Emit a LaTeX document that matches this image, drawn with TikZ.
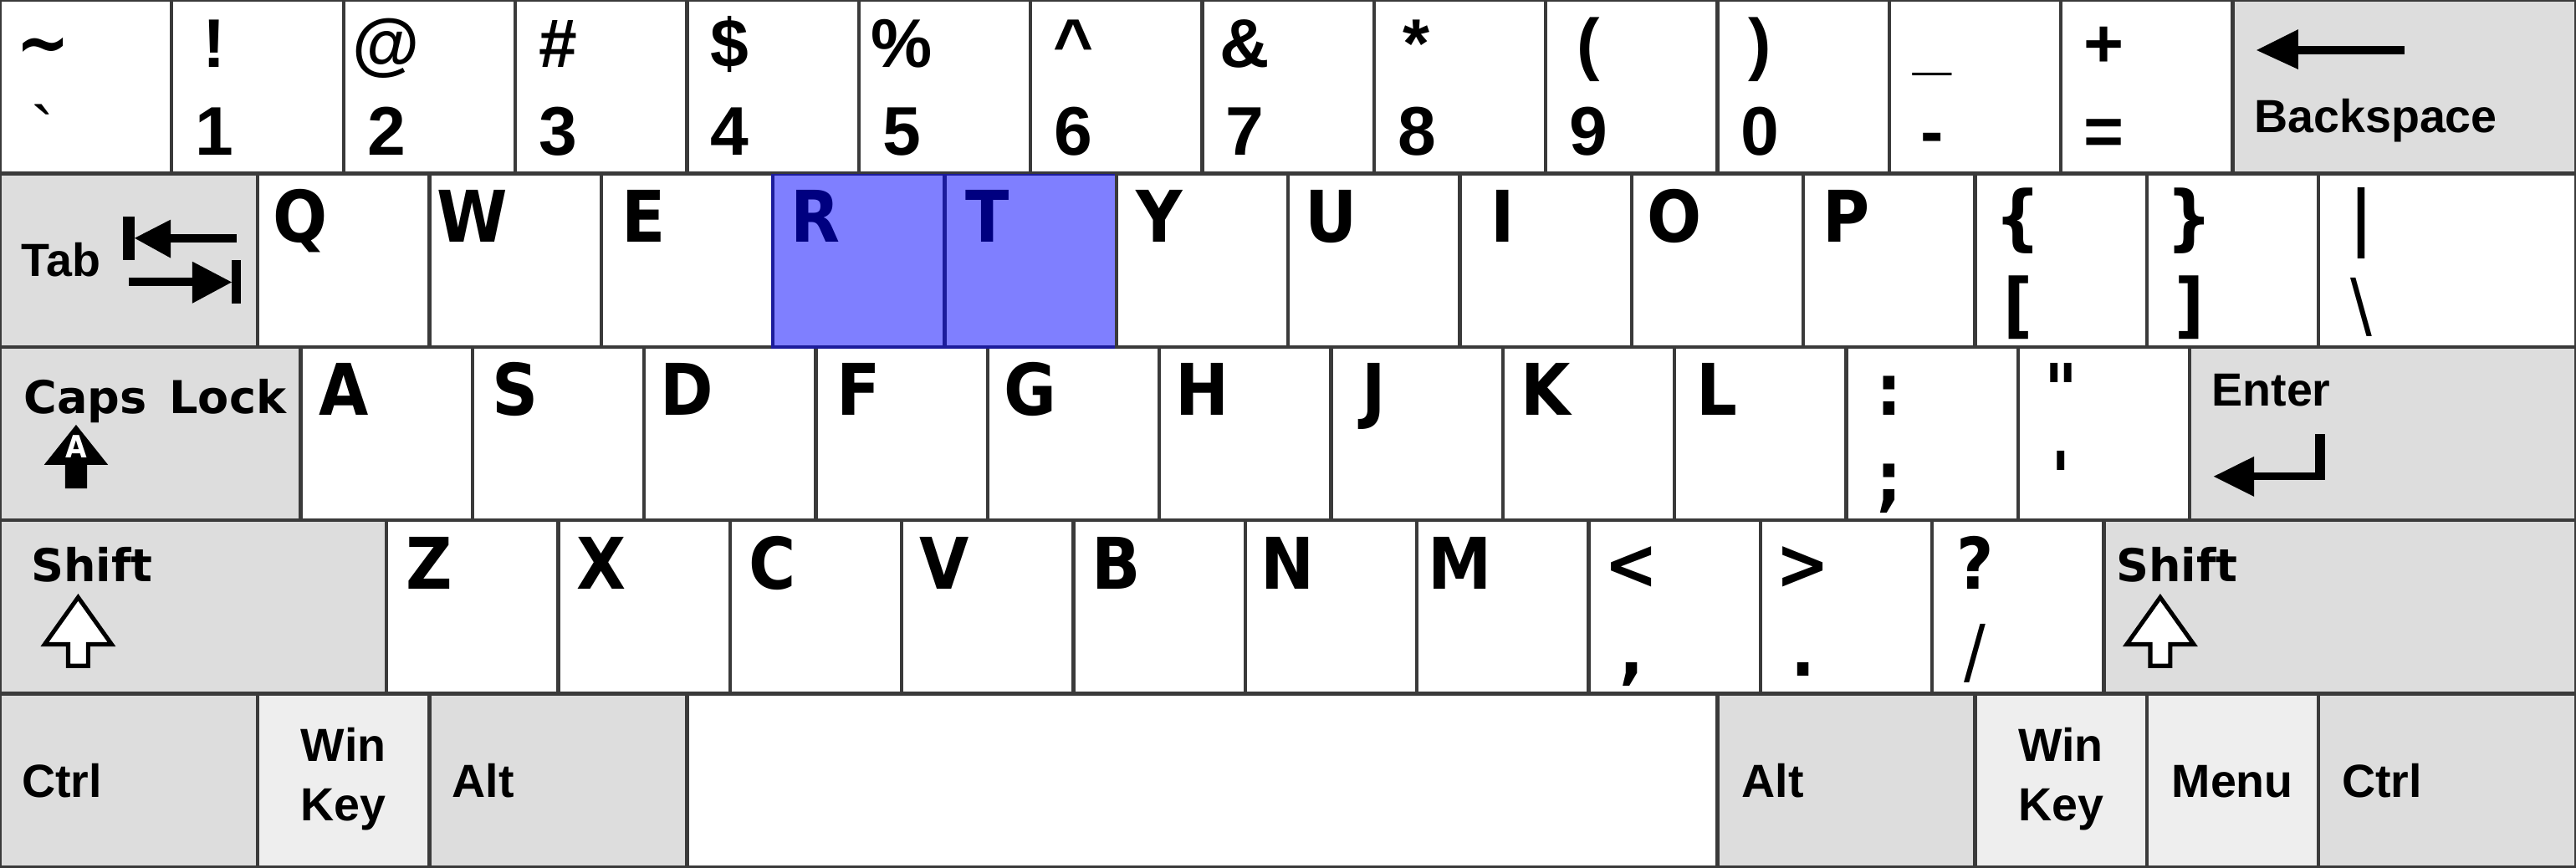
\documentclass[tikz,border=0pt]{standalone}
\usepackage{fontspec}
\newfontfamily\arialfont[Ligatures=TeXOff]{Liberation Sans}
\newfontfamily\dvfont[FakeStretch=0.9,Ligatures=TeXOff]{DejaVu Sans}
\newfontfamily\dvplain[Ligatures=TeXOff]{DejaVu Sans}
\definecolor{keyline}{HTML}{3A3A3A}
\definecolor{modgray}{HTML}{DDDDDD}
\definecolor{wingray}{HTML}{EEEEEE}
\definecolor{hlblue}{HTML}{0000FF}
\tikzset{
  keybox/.style={draw=keyline,line width=0.6pt,rectangle,inner sep=0pt,outer sep=0pt,anchor=north west,minimum height=1.01006cm},
  toplbl/.style={font=\arialfont\bfseries\fontsize{11.4}{13}\selectfont,anchor=base,inner sep=0pt},
  letter/.style={font=\dvfont\bfseries\fontsize{11.8}{13}\selectfont,anchor=base,inner sep=0pt},
  modA/.style={font=\arialfont\bfseries\fontsize{7.7}{9}\selectfont,anchor=base west,inner sep=0pt},
  modAc/.style={font=\arialfont\bfseries\fontsize{7.7}{9}\selectfont,anchor=base,inner sep=0pt},
  modD/.style={font=\dvplain\bfseries\fontsize{7.5}{9}\selectfont,anchor=base west,inner sep=0pt},
  shiftarrow/.style={draw=black,fill=white,line width=0.7pt,line join=miter},
}
% top-row key: name, x, upper, lower
\newcommand\tk[4]{\node[keybox,fill=white,minimum width=1cm] (#1) at (#2,0) {};
  \node[toplbl] (#1u) at (#2+0.25,0.386) {#3};
  \node[toplbl] (#1l) at (#2+0.25,0.892) {#4};}
% single-letter key: name, x, row, letter
\newcommand\sk[4]{\node[keybox,fill=white,minimum width=1cm] (#1) at (#2,#3) {};
  \node[letter] (#1t) at (#2+0.25,#3+0.395) {#4};}
% double-legend key: name, x, row, upper, lower
\newcommand\dk[5]{\node[keybox,fill=white,minimum width=1cm] (#1) at (#2,#3) {};
  \node[letter] (#1u) at (#2+0.25,#3+0.395) {#4};
  \node[letter] (#1l) at (#2+0.25,#3+0.90) {#5};}
\begin{document}
\begin{tikzpicture}[x=1cm,y=-1.01006cm]
\useasboundingbox (0,0) rectangle (15,5);
% ---------- row 0
\tk{kgrave}{0}{\dvfont\fontsize{11.8}{13}\selectfont\textasciitilde}{{\mdseries\textasciigrave}}
\tk{kone}{1}{!}{1}
\tk{ktwo}{2}{@}{2}
\tk{kthree}{3}{\#}{3}
\tk{kfour}{4}{\$}{4}
\tk{kfive}{5}{\%}{5}
\tk{ksix}{6}{\textasciicircum}{6}
\tk{kseven}{7}{\&}{7}
\tk{keight}{8}{*}{8}
\tk{knine}{9}{(}{9}
\tk{kzero}{10}{)}{0}
\tk{kminus}{11}{\_}{-}
\tk{kequal}{12}{+}{=}
\node[keybox,fill=modgray,minimum width=2cm] (kbksp) at (13,0) {};
\node[modA] (lbksp) at (13.12,0.765) {Backspace};
\fill (13.14,0.289) -- (13.383,0.169) -- (13.383,0.40) -- cycle;
\fill (13.38,0.265) rectangle (14.002,0.313);
% ---------- row 1
\node[keybox,fill=modgray,minimum width=1.5cm] (ktab) at (0,1) {};
\node[modA] (ltab) at (0.119,1.595) {Tab};
\fill (0.716,1.247) rectangle (0.784,1.498);
\fill (0.784,1.373) -- (0.994,1.266) -- (0.994,1.488) -- cycle;
\fill (0.99,1.349) rectangle (1.378,1.397);
\fill (0.75,1.60) rectangle (1.13,1.65);
\fill (1.12,1.508) -- (1.349,1.627) -- (1.12,1.749) -- cycle;
\fill (1.349,1.498) rectangle (1.403,1.749);
\sk{kQ}{1.5}{1}{Q}
\sk{kW}{2.5}{1}{W}
\sk{kE}{3.5}{1}{E}
\sk{kR}{4.5}{1}{R}
\sk{kT}{5.5}{1}{T}
\sk{kY}{6.5}{1}{Y}
\sk{kU}{7.5}{1}{U}
\sk{kI}{8.5}{1}{I}
\sk{kO}{9.5}{1}{O}
\sk{kP}{10.5}{1}{P}
\dk{klbr}{11.5}{1}{\{}{[}
\dk{krbr}{12.5}{1}{\}}{]}
\node[keybox,fill=white,minimum width=1.5cm] (kbsl) at (13.5,1) {};
\node[letter] (kbslu) at (13.75,1.395) {|};
\node[letter] (kbsll) at (13.75,1.90) {\mdseries\textbackslash};
% ---------- row 2
\node[keybox,fill=modgray,minimum width=1.75cm] (kcaps) at (0,2) {};
\node[modD] (lcaps) at (0.131,2.382) {Caps\hspace{0.15em} Lock};
\fill (0.443,2.449) -- (0.629,2.680) -- (0.507,2.680) -- (0.507,2.816) -- (0.379,2.816) -- (0.379,2.680) -- (0.257,2.680) -- cycle;
\node[font=\dvfont\bfseries\fontsize{5.1}{6}\selectfont,text=white,anchor=base,inner sep=0pt] (lcapsA) at (0.443,2.641) {A};
\sk{kA}{1.75}{2}{A}
\sk{kS}{2.75}{2}{S}
\sk{kD}{3.75}{2}{D}
\sk{kF}{4.75}{2}{F}
\sk{kG}{5.75}{2}{G}
\sk{kH}{6.75}{2}{H}
\sk{kJ}{7.75}{2}{J}
\sk{kK}{8.75}{2}{K}
\sk{kL}{9.75}{2}{L}
\dk{ksemi}{10.75}{2}{:}{;}
\dk{kquote}{11.75}{2}{"}{'}
\node[keybox,fill=modgray,minimum width=2.25cm] (kenter) at (12.75,2) {};
\node[modA] (lenter) at (12.872,2.342) {Enter};
\fill (12.891,2.747) -- (13.125,2.632) -- (13.125,2.863) -- cycle;
\fill (13.12,2.723) rectangle (13.539,2.767);
\fill (13.481,2.501) rectangle (13.539,2.767);
% ---------- row 3
\node[keybox,fill=modgray,minimum width=2.25cm] (klshift) at (0,3) {};
\node[modD] (llshift) at (0.175,3.354) {Shift};
\draw[shiftarrow] (0.455,3.444) -- (0.650,3.715) -- (0.513,3.715) -- (0.513,3.839) -- (0.397,3.839) -- (0.397,3.715) -- (0.260,3.715) -- cycle;
\sk{kZ}{2.25}{3}{Z}
\sk{kX}{3.25}{3}{X}
\sk{kC}{4.25}{3}{C}
\sk{kV}{5.25}{3}{V}
\sk{kB}{6.25}{3}{B}
\sk{kN}{7.25}{3}{N}
\sk{kM}{8.25}{3}{M}
\dk{kcomma}{9.25}{3}{<}{,}
\dk{kdot}{10.25}{3}{>}{.}
\dk{kslash}{11.25}{3}{?}{\mdseries /}
\node[keybox,fill=modgray,minimum width=2.75cm] (krshift) at (12.25,3) {};
\node[modD] (lrshift) at (12.315,3.354) {Shift};
\draw[shiftarrow] (12.579,3.444) -- (12.774,3.715) -- (12.637,3.715) -- (12.637,3.839) -- (12.521,3.839) -- (12.521,3.715) -- (12.384,3.715) -- cycle;
% ---------- row 4
\node[keybox,fill=modgray,minimum width=1.5cm] (klctrl) at (0,4) {};
\node[modA] (llctrl) at (0.12,4.597) {Ctrl};
\node[keybox,fill=wingray,minimum width=1cm] (klwin) at (1.5,4) {};
\node[modAc] (llwina) at (2.0,4.392) {Win};
\node[modAc] (llwinb) at (2.0,4.734) {Key};
\node[keybox,fill=modgray,minimum width=1.5cm] (klalt) at (2.5,4) {};
\node[modA] (llalt) at (2.627,4.597) {Alt};
\node[keybox,fill=white,minimum width=6cm] (kspace) at (4,4) {};
\node[keybox,fill=modgray,minimum width=1.5cm] (kralt) at (10,4) {};
\node[modA] (lralt) at (10.136,4.597) {Alt};
\node[keybox,fill=wingray,minimum width=1cm] (krwin) at (11.5,4) {};
\node[modAc] (lrwina) at (12.0,4.392) {Win};
\node[modAc] (lrwinb) at (12.0,4.734) {Key};
\node[keybox,fill=wingray,minimum width=1cm] (kmenu) at (12.5,4) {};
\node[modAc] (lmenu) at (13.0,4.597) {Menu};
\node[keybox,fill=modgray,minimum width=1.5cm] (krctrl) at (13.5,4) {};
\node[modA] (lrctrl) at (13.631,4.597) {Ctrl};
% ---------- highlight over R and T
\fill[hlblue,opacity=0.5] (4.49,1.005) rectangle (6.49,2.01);
\end{tikzpicture}
\end{document}
